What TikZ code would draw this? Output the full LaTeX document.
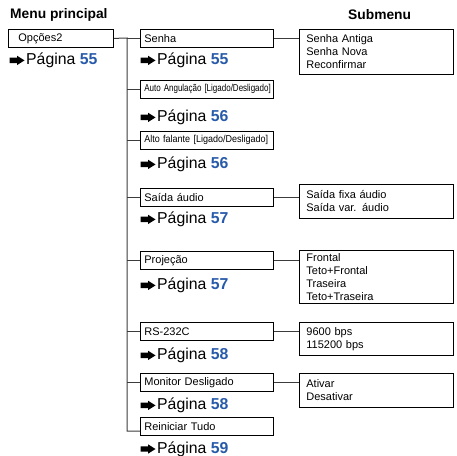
\documentclass[tikz,border=0pt]{standalone}
\usepackage{fontspec}
\setmainfont{Liberation Sans}
\usepackage{graphicx}
\definecolor{pagblue}{RGB}{40,90,170}
\definecolor{linkgray}{RGB}{60,60,60}
\begin{document}
\begin{tikzpicture}[x=1pt,y=-1pt,
  menubox/.style={draw=black, line width=0.8pt, anchor=north west,
    inner xsep=4pt, inner ysep=0pt, minimum height=18pt,
    text width=125pt, align=left, font=\fontsize{11}{12.5}\selectfont},
  subbox/.style={draw=black, line width=0.8pt, anchor=north west,
    inner xsep=7pt, inner ysep=0pt, minimum height=#1,
    text width=140pt, align=left, font=\fontsize{11}{13}\selectfont},
  pageref/.style={anchor=base west, inner sep=0pt, font=\fontsize{15.8}{16}\selectfont},
  header/.style={anchor=base west, inner sep=0pt, font=\fontsize{13.8}{15}\selectfont\bfseries},
  link/.style={draw=linkgray, line width=1pt},
  % heavy black pointer arrow, drawn just left of a page reference
  pics/pointer/.style={code={
    \fill[black] (-16.5,-1.3) -- (-9,-1.3) -- (-9,0.7) -- (-1.5,-4)
      -- (-9,-8.7) -- (-9,-6.7) -- (-16.5,-6.7) -- cycle;}}]
\useasboundingbox (0,0) rectangle (457,455);
\newcommand{\pg}[1]{Página \textbf{\color{pagblue}#1}}
\newcommand{\narrow}[2]{\scalebox{#1}[1]{\fontsize{10}{11}\selectfont #2}}

% headers
\node[header] (hmain) at (10,18.5) {Menu principal};
\node[header] (hsub) at (348,19) {Submenu};

% top-level menu
\node[menubox, inner xsep=10pt, text width=85pt] (opc) at (8,29) {Opções2};
\node[pageref] (popc) at (26,64.4) {\pg{55}};

% second-level entries
\node[menubox] (senha) at (140,29) {Senha};
\node[pageref] (psenha) at (157,64.4) {\pg{55}};
\node[menubox] (auto) at (140,80) {\narrow{0.8}{Auto Angulação [Ligado/Desligado]}};
\node[pageref] (pauto) at (157,121.4) {\pg{56}};
\node[menubox] (alto) at (140,131) {\narrow{0.9}{Alto falante [Ligado/Desligado]}};
\node[pageref] (palto) at (157,168.4) {\pg{56}};
\node[menubox] (saida) at (140,188) {Saída áudio};
\node[pageref] (psaida) at (157,223.4) {\pg{57}};
\node[menubox] (proj) at (140,251) {Projeção};
\node[pageref] (pproj) at (157,289.4) {\pg{57}};
\node[menubox] (rs) at (140,322) {RS-232C};
\node[pageref] (prs) at (157,359.4) {\pg{58}};
\node[menubox] (mon) at (140,373) {Monitor Desligado};
\node[pageref] (pmon) at (157,409.4) {\pg{58}};
\node[menubox] (rein) at (140,417) {Reiniciar Tudo};
\node[pageref] (prein) at (157,453) {\pg{59}};

% pointer arrows in front of every page reference
\foreach \p in {popc,psenha,pauto,palto,psaida,pproj,prs,pmon,prein}
  \pic at (\p.base west) {pointer};

% submenus
\node[subbox=45pt] (ssenha) at (299,29) {Senha Antiga\\Senha Nova\\Reconfirmar};
\node[subbox=34pt] (ssaida) at (299,184) {Saída fixa áudio\\Saída var. áudio};
\node[subbox=53pt] (sproj) at (299,250) {Frontal\\Teto+Frontal\\Traseira\\Teto+Traseira};
\node[subbox=33pt] (srs) at (299,322) {9600 bps\\115200 bps};
\node[subbox=34pt] (smon) at (299,373) {Ativar\\Desativar};

% trunk and branches
\coordinate (trunk) at (127,38);
\coordinate (trunkend) at (127,431);
\draw[link] (opc.east) -- (trunk) -- (trunkend) -- (trunkend -| rein.west);
\foreach \n in {senha,auto,alto,saida,proj,rs,mon}
  \draw[link] (trunk |- \n.west) -- (\n.west);

% links to submenus
\draw[link] (senha.east) -- (senha.east -| ssenha.west);
\draw[link] (saida.east) -- (saida.east -| ssaida.west);
\draw[link] (proj.east) -- (proj.east -| sproj.west);
\draw[link] (rs.east) -- (rs.east -| srs.west);
\draw[link] (mon.east) -- (mon.east -| smon.west);
\end{tikzpicture}
\end{document}
